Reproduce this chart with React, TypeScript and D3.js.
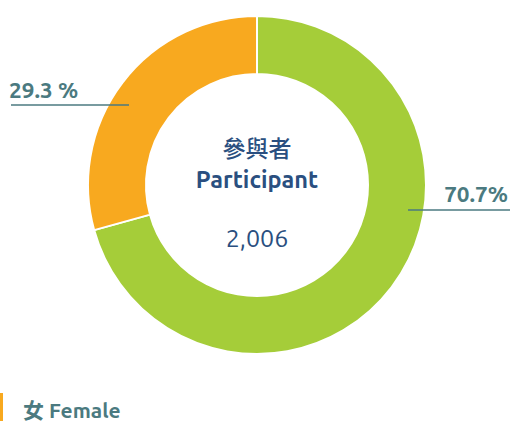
import React from "react";
import * as d3 from "d3";

const categories = ["Male", "Female"];
const values = [70.7, 29.3];
const labels = ["70.7%", "29.3 %"];
const colors = ["#A5CD39", "#F8A91F"];
const centerTitle = "參與者";
const centerSub = "Participant";
const centerValue = "2,006";
const legendLabel = "女 Female";

export default function App() {
  const W = 510, H = 421;
  const cx = 257, cy = 185;
  const outer = 169, inner = 111;
  const pie = d3.pie<number>().sort(null).value((d) => d);
  const arcs = pie(values);
  const arc = d3.arc<d3.PieArcDatum<number>>().innerRadius(inner).outerRadius(outer);
  const teal = "#4B7A80";
  const blue = "#2A4F80";
  const font = "Ubuntu, 'Open Sans', 'Noto Sans', 'Noto Sans CJK TC', sans-serif";
  return (
    <svg width={W} height={H} style={{ position: "absolute", left: 0, top: 0 }} fontFamily={font}>
      <g transform={`translate(${cx},${cy})`}>
        {arcs.map((a, i) => (
          <path key={categories[i]} d={arc(a) || ""} fill={colors[i]} stroke="#fff" strokeWidth={2} />
        ))}
      </g>
      {/* right label */}
      <line x1={408} x2={510} y1={210} y2={210} stroke={teal} strokeWidth={1.5} />
      <text x={508} y={202} textAnchor="end" fontSize={22.5} fontWeight={700} fill={teal}>{labels[0]}</text>
      {/* left label */}
      <line x1={11} x2={129} y1={105} y2={105} stroke={teal} strokeWidth={1.5} />
      <text x={9} y={98} fontSize={22.5} fontWeight={700} fill={teal}>{labels[1]}</text>
      {/* center */}
      <text x={cx} y={157} textAnchor="middle" fontSize={23} fontWeight={500} fill={blue}
        fontFamily="'Noto Sans CJK TC', sans-serif">{centerTitle}</text>
      <text x={cx} y={188} textAnchor="middle" fontSize={23.5} fontWeight={600} fill={blue}>{centerSub}</text>
      <text x={cx} y={247} textAnchor="middle" fontSize={25} fontWeight={400} fill={blue}>{centerValue}</text>
      {/* legend */}
      <rect x={0} y={393} width={3} height={28} fill={colors[1]} />
      <text x={23} y={418} fontSize={21} fontWeight={700} fill={teal}>{legendLabel}</text>
    </svg>
  );
}
